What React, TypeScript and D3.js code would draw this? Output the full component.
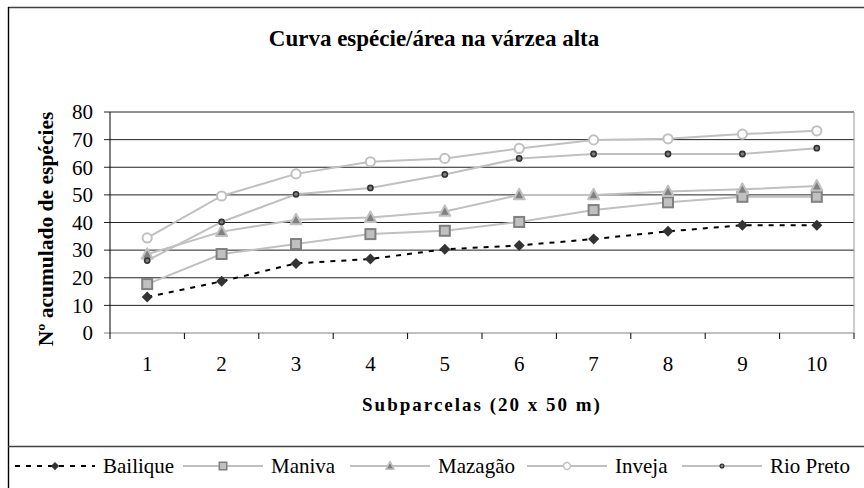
import React from 'react';
import * as d3 from 'd3';

// categorias do eixo x (subparcelas) e ticks do eixo y
const subparcelas = [1, 2, 3, 4, 5, 6, 7, 8, 9, 10];
const yTicks = [0, 10, 20, 30, 40, 50, 60, 70, 80];

// nº acumulado de espécies por área
const bailique = [13, 18.7, 25.2, 26.8, 30.3, 31.7, 34, 36.8, 39, 39];
const maniva = [17.7, 28.6, 32.2, 35.8, 37, 40.2, 44.5, 47.3, 49.3, 49.3];
const mazagao = [28.5, 36.7, 41, 41.8, 44, 50, 50, 51.2, 52, 53.2];
const inveja = [34.4, 49.6, 57.6, 62, 63.2, 66.8, 69.9, 70.3, 72, 73.2];
const rioPreto = [26.2, 40.2, 50.2, 52.5, 57.4, 63.2, 64.8, 64.8, 64.8, 66.9];

const seriesNames = ['Bailique', 'Maniva', 'Mazagão', 'Inveja', 'Rio Preto'];
const seriesValues = [bailique, maniva, mazagao, inveja, rioPreto];

const FONT = "'Liberation Serif', 'Times New Roman', Times, serif";
const W = 864;
const H = 488;
const plot = { left: 110, right: 854, top: 112, bottom: 333 };

type MarkerKind = 'diamond' | 'square' | 'triangle' | 'ring' | 'dot';

interface SeriesStyle {
  line: string;
  dash?: string;
  marker: MarkerKind;
}

const styles: SeriesStyle[] = [
  { line: '#000', dash: '5,6', marker: 'diamond' },
  { line: '#c0c0c0', marker: 'square' },
  { line: '#c0c0c0', marker: 'triangle' },
  { line: '#c0c0c0', marker: 'ring' },
  { line: '#c0c0c0', marker: 'dot' },
];

// legenda: início da amostra de linha de cada item
const legendStarts = [15, 183, 350, 527, 682];
const legendSampleW = 80;

function Marker({ kind, x, y, s = 1 }: { kind: MarkerKind; x: number; y: number; s?: number }) {
  if (kind === 'diamond') {
    const r = 5.5 * s;
    return <path d={`M${x},${y - r}L${x + r},${y}L${x},${y + r}L${x - r},${y}Z`} fill="#333" />;
  }
  if (kind === 'square') {
    const h = 5 * s;
    return <rect x={x - h} y={y - h} width={2 * h} height={2 * h} fill="#c0c0c0" stroke="#808080" strokeWidth={2 * s} />;
  }
  if (kind === 'triangle') {
    const h = 5.5 * s;
    return (
      <path
        d={`M${x},${y - h * 1.1}L${x + h},${y + h * 0.8}L${x - h},${y + h * 0.8}Z`}
        fill="#808080"
        stroke="#c0c0c0"
        strokeWidth={2 * s}
        strokeLinejoin="round"
      />
    );
  }
  if (kind === 'ring') {
    return <circle cx={x} cy={y} r={4.6 * s} fill="#fff" stroke="#c0c0c0" strokeWidth={2 * s} />;
  }
  return <circle cx={x} cy={y} r={2.6 * s} fill="#808080" stroke="#333" strokeWidth={1.6 * s} />;
}

export default function App() {
  const x = d3.scaleBand<number>().domain(subparcelas).range([plot.left, plot.right]);
  const y = d3.scaleLinear().domain([0, 80]).range([plot.bottom, plot.top]);
  const cx = (d: number) => (x(d) ?? 0) + x.bandwidth() / 2;

  const line = d3
    .line<number>()
    .x((_, i) => cx(subparcelas[i]))
    .y((d) => y(d));

  const boundaries = subparcelas.map((d) => x(d) ?? 0).concat([plot.right]);

  return (
    <svg
      width={W}
      height={H}
      style={{ position: 'absolute', left: 0, top: 0, background: '#fff', fontFamily: FONT }}
    >
      {/* moldura */}
      <line x1={8} x2={W} y1={7.5} y2={7.5} stroke="#404040" strokeWidth={1.6} />
      <line x1={8.5} x2={8.5} y1={7} y2={H} stroke="#000" strokeWidth={1.4} />
      <line x1={8} x2={W} y1={446.5} y2={446.5} stroke="#404040" strokeWidth={1.4} />

      <text x={434} y={46} textAnchor="middle" fontWeight="bold" fontSize={23}>
        Curva espécie/área na várzea alta
      </text>

      {/* grade e eixo y */}
      {yTicks.map((t) => (
        <g key={t}>
          <line x1={plot.left - 6} x2={plot.right} y1={y(t)} y2={y(t)} stroke={t === 0 ? '#808080' : '#222'} strokeWidth={1} />
          <text x={93} y={y(t)} dy="0.35em" textAnchor="end" fontSize={21}>
            {t}
          </text>
        </g>
      ))}
      <line x1={plot.left} x2={plot.left} y1={plot.top} y2={plot.bottom} stroke="#000" />
      <line x1={plot.right} x2={plot.right} y1={plot.top} y2={plot.bottom} stroke="#999" />

      {/* eixo x */}
      {boundaries.map((b, i) => (
        <line key={i} x1={b} x2={b} y1={plot.bottom} y2={plot.bottom + 6} stroke="#000" />
      ))}
      {subparcelas.map((d) => (
        <text key={d} x={cx(d)} y={371} textAnchor="middle" fontSize={21}>
          {d}
        </text>
      ))}

      <text x={482} y={411} textAnchor="middle" fontWeight="bold" fontSize={19} letterSpacing={2}>
        Subparcelas (20 x 50 m)
      </text>
      <text
        transform="translate(53,229) rotate(-90)"
        textAnchor="middle"
        fontWeight="bold"
        fontSize={21.5}
      >
        Nº acumulado de espécies
      </text>

      {/* séries */}
      {seriesValues.map((vals, si) => (
        <path
          key={'l' + si}
          d={line(vals) ?? ''}
          fill="none"
          stroke={styles[si].line}
          strokeWidth={2}
          strokeDasharray={styles[si].dash}
        />
      ))}
      {seriesValues.map((vals, si) => (
        <g key={'m' + si}>
          {vals.map((v, i) => (
            <Marker key={i} kind={styles[si].marker} x={cx(subparcelas[i])} y={y(v)} />
          ))}
        </g>
      ))}

      {/* legenda */}
      {seriesNames.map((name, si) => {
        const x0 = legendStarts[si];
        const ly = 466;
        return (
          <g key={name}>
            <line
              x1={x0}
              x2={x0 + legendSampleW}
              y1={ly}
              y2={ly}
              stroke={styles[si].line}
              strokeWidth={2}
              strokeDasharray={styles[si].dash}
            />
            <Marker kind={styles[si].marker} x={x0 + legendSampleW / 2} y={ly} s={0.75} />
            <text x={x0 + legendSampleW + 8} y={473} fontSize={21}>
              {name}
            </text>
          </g>
        );
      })}
    </svg>
  );
}
